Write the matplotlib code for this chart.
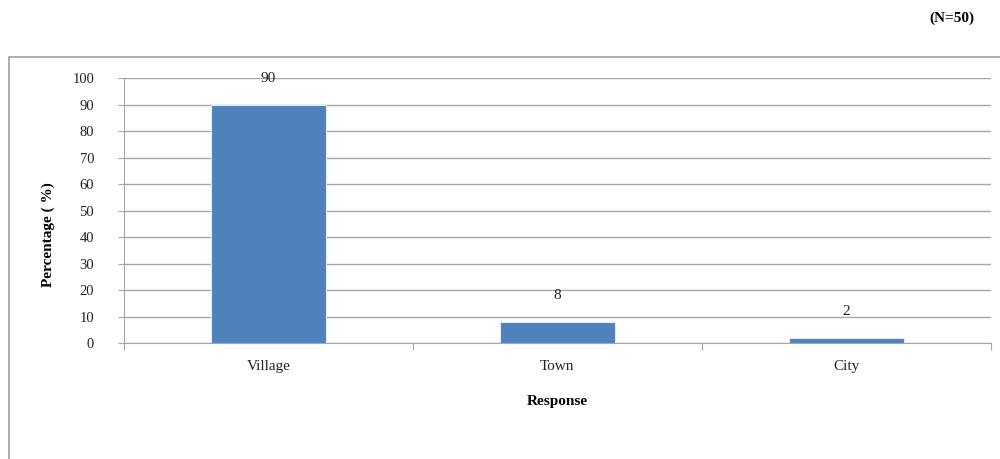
import numpy as np
import matplotlib.pyplot as plt
from matplotlib.patches import Rectangle

categories = ["Village", "Town", "City"]
percentages = [90, 8, 2]
y_ticks = [0, 10, 20, 30, 40, 50, 60, 70, 80, 90, 100]

plt.rcParams['font.family'] = ['Liberation Serif', 'DejaVu Serif']

fig = plt.figure(figsize=(10, 4.59), dpi=100)
ax = fig.add_axes([0.124, 0.2527, 0.867, 0.5773])

grey = "#a6a6a6"
x = np.arange(len(categories))
ax.bar(x, percentages, width=0.4, color="#4f81bd", edgecolor="#e4e8ee", linewidth=0.8, zorder=3)

for xi, v in zip(x, percentages):
    ax.annotate(str(v), (xi, v), xytext=(0, 19), textcoords="offset points",
                ha="center", va="center", fontsize=11, color="#222222")

ax.set_xlim(-0.5, len(categories) - 0.5)
ax.set_ylim(0, 100)
ax.set_yticks(y_ticks)
ax.tick_params(axis="y", length=4.5, width=0.8, color=grey, pad=17, labelsize=10.5, labelcolor="#222222")
ax.yaxis.grid(True, color=grey, linewidth=1.0, zorder=0)

ax.set_xticks(x)
ax.set_xticklabels(categories)
ax.set_xticks(np.arange(-0.5, len(categories), 1), minor=True)
ax.tick_params(axis="x", which="major", length=0, pad=12, labelsize=11, labelcolor="#222222")
ax.tick_params(axis="x", which="minor", length=5, width=0.8, color=grey)

for side in ["top", "right"]:
    ax.spines[side].set_visible(False)
ax.spines["left"].set_color(grey)
ax.spines["bottom"].set_color(grey)

ax.set_ylabel("Percentage ( %)", fontsize=11, fontweight="bold")
ax.yaxis.set_label_coords(-0.08, 0.408)
ax.set_xlabel("Response", fontsize=11, fontweight="bold", labelpad=16)

fig.text(0.952, 0.96, "(N=50)", fontsize=11, fontweight="bold", ha="center", va="center")

fig.patches.append(Rectangle((0.009, -0.01), 1.0, 1 - 57 / 459 + 0.01, transform=fig.transFigure,
                             fill=False, edgecolor="#a0a0a0", linewidth=1.2))

fig.savefig("out.png", dpi=100)
